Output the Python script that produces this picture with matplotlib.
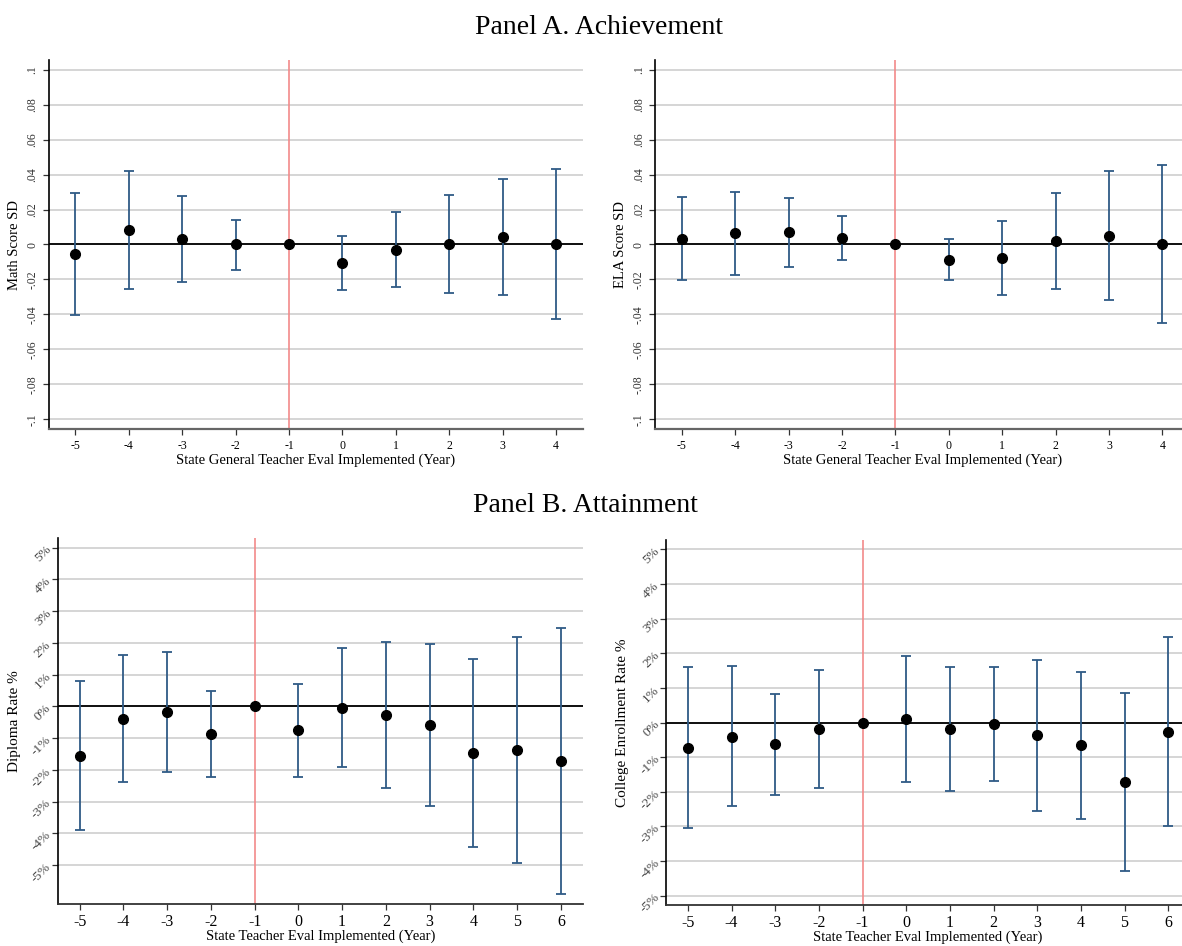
import matplotlib
matplotlib.use("Agg")
import matplotlib.pyplot as plt
import numpy as np

plt.rcParams['font.family'] = ['Liberation Serif', 'DejaVu Serif']

# ---- Panel A data ----
years_a = [-5, -4, -3, -2, -1, 0, 1, 2, 3, 4]
math_est = [-0.0055, 0.0082, 0.0031, 0.0, 0.0, -0.0105, -0.0029, 0.0004, 0.0042, 0.0002]
math_lo = [-0.0404, -0.0255, -0.0215, -0.0143, 0.0, -0.0261, -0.0242, -0.0275, -0.0290, -0.0427]
math_hi = [0.0292, 0.0419, 0.0276, 0.0139, 0.0, 0.0051, 0.0187, 0.0282, 0.0374, 0.0433]
ela_est = [0.0032, 0.0063, 0.0071, 0.0036, 0.0, -0.0086, -0.0076, 0.0021, 0.0051, 0.0]
ela_lo = [-0.0204, -0.0172, -0.0126, -0.0090, 0.0, -0.0204, -0.0288, -0.0252, -0.0315, -0.0450]
ela_hi = [0.0271, 0.0299, 0.0267, 0.0162, 0.0, 0.0031, 0.0135, 0.0294, 0.0418, 0.0452]
ytick_a = [0.1, 0.08, 0.06, 0.04, 0.02, 0.0, -0.02, -0.04, -0.06, -0.08, -0.1]
ytick_a_labels = ['.1', '.08', '.06', '.04', '.02', '0', '-.02', '-.04', '-.06', '-.08', '-.1']

# ---- Panel B data ----
years_b = [-5, -4, -3, -2, -1, 0, 1, 2, 3, 4, 5, 6]
dip_est = [-1.55, -0.39, -0.18, -0.87, 0.0, -0.755, -0.05, -0.26, -0.58, -1.46, -1.37, -1.72]
dip_lo = [-3.90, -2.39, -2.07, -2.22, 0.0, -2.22, -1.92, -2.56, -3.15, -4.43, -4.93, -5.92]
dip_hi = [0.81, 1.63, 1.71, 0.49, 0.0, 0.71, 1.83, 2.04, 1.97, 1.50, 2.19, 2.46]
col_est = [-0.74, -0.41, -0.635, -0.18, 0.0, 0.096, -0.19, -0.05, -0.375, -0.66, -1.72, -0.27]
col_lo = [-3.06, -2.42, -2.09, -1.89, 0.0, -1.72, -1.99, -1.68, -2.55, -2.79, -4.30, -3.00]
col_hi = [1.60, 1.62, 0.82, 1.53, 0.0, 1.915, 1.61, 1.59, 1.81, 1.46, 0.86, 2.47]
ytick_b = [5, 4, 3, 2, 1, 0, -1, -2, -3, -4, -5]
ytick_b_labels = ['5%', '4%', '3%', '2%', '1%', '0%', '-1%', '-2%', '-3%', '-4%', '-5%']

W, H = 1182, 946
fig = plt.figure(figsize=(W / 100, H / 100), dpi=100)

def rect(l, r, t, b):
    return [l / W, 1 - b / H, (r - l) / W, (b - t) / H]

BAR = '#2f5b86'
GRID = '#d2d2d2'
RED = '#f28a8a'

def draw(ax, years, est, lo, hi, xlim, ylim, yt, ytl, ylabel, xlabel, panel):
    ax.set_xlim(*xlim)
    ax.set_ylim(*ylim)
    for v in yt:
        ax.axhline(v, color=GRID, lw=1.3, zorder=1)
    ax.axvline(-1, color=RED, lw=1.2, zorder=2)
    ax.axhline(0, color='black', lw=1.3, zorder=3)
    yrs = np.array(years)
    est = np.array(est)
    lo = np.array(lo)
    hi = np.array(hi)
    mask = yrs != -1
    ax.errorbar(yrs[mask], est[mask], yerr=[est[mask] - lo[mask], hi[mask] - est[mask]],
                fmt='none', ecolor=BAR, elinewidth=1.3, capsize=3.5, capthick=1.3, zorder=4)
    ax.plot(yrs, est, 'o', color='black', markersize=7, zorder=5)
    ax.set_xticks(years)
    ax.set_xticklabels([str(y) for y in years])
    ax.set_yticks(yt)
    for s in ['top', 'right']:
        ax.spines[s].set_visible(False)
    ax.spines['left'].set_color('black')
    ax.spines['left'].set_linewidth(1.2)
    ax.tick_params(axis='both', length=4, width=0.9, color='#333333')
    if panel == 'A':
        ax.spines['bottom'].set_color('#666666')
        ax.spines['bottom'].set_linewidth(1.6)
        ax.set_yticklabels(ytl, rotation=90, va='center', fontsize=8.5, color='#333333')
        ax.tick_params(axis='x', labelsize=8.5, pad=4)
        ax.set_xlabel(xlabel, fontsize=10.5, labelpad=1)
        ax.set_ylabel(ylabel, fontsize=10.5, labelpad=4)
    else:
        ax.spines['bottom'].set_color('#333333')
        ax.spines['bottom'].set_linewidth(1.3)
        ax.set_yticklabels(ytl, rotation=45, ha='right', va='center', fontsize=9.5,
                           rotation_mode='anchor', color='#444444')
        ax.tick_params(axis='y', pad=2)
        ax.tick_params(axis='x', labelsize=11.5, pad=3)
        ax.set_xlabel(xlabel, fontsize=10.5, labelpad=0)
        ax.set_ylabel(ylabel, fontsize=11, labelpad=6)
    ax.set_facecolor('white')

ax1 = fig.add_axes(rect(48.7, 582.7, 60, 429))
draw(ax1, years_a, math_est, math_lo, math_hi, (-5.5, 4.5), (-0.1055, 0.1055),
     ytick_a, ytick_a_labels, 'Math Score SD',
     'State General Teacher Eval Implemented (Year)', 'A')
ax2 = fig.add_axes(rect(655.3, 1189, 60, 429))
draw(ax2, years_a, ela_est, ela_lo, ela_hi, (-5.5, 4.5), (-0.1055, 0.1055),
     ytick_a, ytick_a_labels, 'ELA Score SD',
     'State General Teacher Eval Implemented (Year)', 'A')
ax3 = fig.add_axes(rect(57.7, 582.7, 538, 904))
draw(ax3, years_b, dip_est, dip_lo, dip_hi, (-5.5, 6.5), (-6.22, 5.3),
     ytick_b, ytick_b_labels, 'Diploma Rate %',
     'State Teacher Eval Implemented (Year)', 'B')
ax4 = fig.add_axes(rect(666, 1190, 540, 905))
draw(ax4, years_b, col_est, col_lo, col_hi, (-5.5, 6.5), (-5.27, 5.27),
     ytick_b, ytick_b_labels, 'College Enrollment Rate %',
     'State Teacher Eval Implemented (Year)', 'B')

fig.text(599 / W, 1 - 27 / H, 'Panel A. Achievement', ha='center', va='center', fontsize=20)
fig.text(585 / W, 1 - 505 / H, 'Panel B. Attainment', ha='center', va='center', fontsize=20)

fig.savefig('out.png', dpi=100, facecolor='white')
